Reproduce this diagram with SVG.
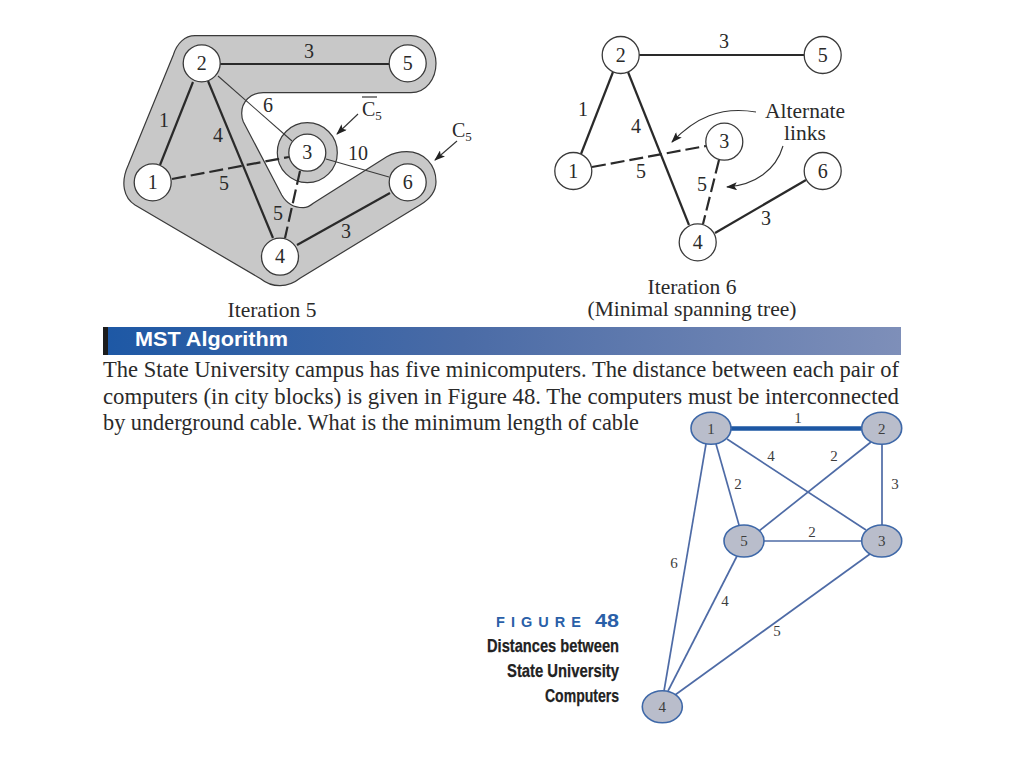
<svg xmlns="http://www.w3.org/2000/svg" width="1024" height="768" viewBox="0 0 1024 768">
<style>
text{font-family:"Liberation Serif","Times New Roman",serif;fill:#2a2a2a}
.n{fill:#fff;stroke:#3a3a3a;stroke-width:1.3}
.t{font-size:20px;text-anchor:middle}
.l{font-size:20px;text-anchor:middle}
.big{font-size:21.500px;text-anchor:middle}
.e{stroke:#2a2a2a;stroke-width:2.200;fill:none}
.d{stroke:#2a2a2a;stroke-width:2.200;fill:none;stroke-dasharray:14 5}
.h{stroke:#3a3a3a;stroke-width:1.100;fill:none}
.b{stroke:#4e6ba6;stroke-width:1.700;fill:none}
.g{fill:#b9bdcb;stroke:#3e68a8;stroke-width:1.600}
.s{font-size:15px;text-anchor:middle;fill:#3d3d3d}
.body{font-size:22.500px}
.cap{font-family:"Liberation Sans",Arial,sans-serif;font-weight:bold;font-size:18.500px;fill:#222;stroke:#222;stroke-width:.25}
.arr{stroke:#333;stroke-width:1.100;fill:none}
</style>
<defs>
<marker id="ah" markerWidth="12" markerHeight="8" refX="10" refY="4" orient="auto" markerUnits="userSpaceOnUse"><path d="M0 0L11 4L0 8L2.500 4Z" fill="#222"/></marker>
<linearGradient id="bar" x1="0" x2="1" y1="0" y2="0"><stop offset="0" stop-color="#1d58a5"/><stop offset="0.45" stop-color="#4a6ba6"/><stop offset="1" stop-color="#7e8fb9"/></linearGradient>
</defs>
<rect width="1024" height="768" fill="#fff"/>

<g id="regions">
<path d="M195 35.700H411C426 35.700 436 49 436 63.300C436 79 426 92.700 411 92.700H263.300C250 92.700 241.700 102 241.700 113.300Q241.700 118 243.300 121.700L281.700 195Q289 207.700 303.300 207.700Q308 207.700 313.300 203.300L386.700 156.700Q396 151.700 406.700 151.700C424 151.700 436 165 436 181.700C436 192 430 199 420 205L300 278.300C288 288 272 288 261 279L135 205C124 198 120 183 128.300 165L173.300 55C177 43 185 35.700 195 35.700Z" fill="#c8c8c8" stroke="#3a3a3a" stroke-width="1.200"/>
<circle cx="307.300" cy="152.700" r="30" fill="#c8c8c8" stroke="#3a3a3a" stroke-width="1.200"/>
</g>

<g id="connectors">
<line class="e" x1="220" y1="64" x2="389" y2="64"/>
<line class="e" x1="193" y1="82" x2="160" y2="165"/>
<line class="e" x1="208" y1="81" x2="273" y2="238"/>
<line class="e" x1="297" y1="245" x2="390" y2="193"/>
<line class="d" x1="172" y1="179" x2="289" y2="157"/>
<line class="d" x1="300" y1="171" x2="285" y2="238"/>
<line class="h" x1="218" y1="76" x2="292" y2="141"/>
<line class="h" x1="326" y1="159" x2="389" y2="177"/>

<line class="e" x1="639" y1="55" x2="804" y2="55"/>
<line class="e" x1="613" y1="72" x2="581" y2="154"/>
<line class="e" x1="628" y1="72" x2="689" y2="225"/>
<line class="e" x1="715" y1="233" x2="806" y2="180"/>
<line class="d" x1="592" y1="167" x2="706" y2="146"/>
<line class="d" x1="719" y1="160" x2="703" y2="224"/>

<line class="b" x1="730" y1="428.500" x2="862" y2="428.500" style="stroke:#1d57a3;stroke-width:4.500"/>
<line class="b" x1="706" y1="444" x2="664" y2="691"/>
<line class="b" x1="716" y1="444" x2="739" y2="525"/>
<line class="b" x1="727" y1="439" x2="866" y2="530"/>
<line class="b" x1="871" y1="442" x2="759" y2="531"/>
<line class="b" x1="882" y1="444" x2="882" y2="525"/>
<line class="b" x1="764" y1="541" x2="862" y2="541"/>
<line class="b" x1="737" y1="556" x2="668" y2="691"/>
<line class="b" x1="870" y1="554" x2="675" y2="695"/>

<line class="arr" x1="358" y1="114" x2="337" y2="134" marker-end="url(#ah)"/>
<line class="arr" x1="457" y1="141" x2="435" y2="160" marker-end="url(#ah)"/>
<path class="arr" d="M756 112C720 106 695 118 672 142" marker-end="url(#ah)"/>
<path class="arr" d="M783 146C776 170 755 185 727 187" marker-end="url(#ah)"/>
</g>

<g id="L2"><circle class="n" cx="201.700" cy="63.300" r="18.500"/><text class="t" x="201.700" y="70">2</text></g>
<g id="L5"><circle class="n" cx="407.700" cy="63.300" r="18.500"/><text class="t" x="407.700" y="70">5</text></g>
<g id="L1"><circle class="n" cx="152.700" cy="182.300" r="18.500"/><text class="t" x="152.700" y="189">1</text></g>
<g id="L3"><circle class="n" cx="307.300" cy="152.700" r="18.500"/><text class="t" x="307.300" y="159">3</text></g>
<g id="L6"><circle class="n" cx="407.700" cy="182.300" r="18.500"/><text class="t" x="407.700" y="189">6</text></g>
<g id="L4"><circle class="n" cx="280" cy="256.700" r="18.500"/><text class="t" x="280" y="263">4</text></g>

<g id="R2"><circle class="n" cx="620.700" cy="55" r="18.500"/><text class="t" x="620.700" y="61.500">2</text></g>
<g id="R5"><circle class="n" cx="822.700" cy="55" r="18.500"/><text class="t" x="822.700" y="61.500">5</text></g>
<g id="R1"><circle class="n" cx="573.300" cy="171" r="18.500"/><text class="t" x="573.300" y="177.500">1</text></g>
<g id="R3"><circle class="n" cx="724.300" cy="141.700" r="18.500"/><text class="t" x="724.300" y="148">3</text></g>
<g id="R6"><circle class="n" cx="822.700" cy="171" r="18.500"/><text class="t" x="822.700" y="177.500">6</text></g>
<g id="R4"><circle class="n" cx="697.700" cy="242.300" r="18.500"/><text class="t" x="697.700" y="249">4</text></g>

<g id="B1"><ellipse class="g" cx="711" cy="428.300" rx="20" ry="16"/><text class="s" x="711" y="433.500">1</text></g>
<g id="B2"><ellipse class="g" cx="881.700" cy="428.300" rx="20" ry="16"/><text class="s" x="881.700" y="433.500">2</text></g>
<g id="B5"><ellipse class="g" cx="744" cy="541" rx="20" ry="16"/><text class="s" x="744" y="546">5</text></g>
<g id="B3"><ellipse class="g" cx="881.700" cy="541" rx="20" ry="16"/><text class="s" x="881.700" y="546">3</text></g>
<g id="B4"><ellipse class="g" cx="662.300" cy="706.700" rx="20" ry="16"/><text class="s" x="662.300" y="712">4</text></g>

<g id="labels">
<text class="l" x="309" y="58">3</text>
<text class="l" x="164" y="127">1</text>
<text class="l" x="218" y="142">4</text>
<text class="l" x="268" y="112">6</text>
<text class="l" x="224" y="190">5</text>
<text class="l" x="278" y="220">5</text>
<text class="l" x="346" y="238">3</text>
<text class="l" x="358" y="160">10</text>
<text x="362" y="116" font-size="20">C<tspan font-size="13" dy="4">5</tspan></text>
<line x1="362" y1="97" x2="377" y2="97" stroke="#333" stroke-width="1.200"/>
<text x="452" y="137" font-size="20">C<tspan font-size="13" dy="4">5</tspan></text>
<text class="l" x="724" y="48">3</text>
<text class="l" x="583" y="116">1</text>
<text class="l" x="636" y="133">4</text>
<text class="l" x="641" y="178">5</text>
<text class="l" x="702" y="191">5</text>
<text class="l" x="766" y="225">3</text>
<text class="big" x="805" y="118">Alternate</text>
<text class="big" x="805" y="140">links</text>
<text class="big" x="272" y="317">Iteration 5</text>
<text class="big" x="692" y="294">Iteration 6</text>
<text class="big" x="692" y="316">(Minimal spanning tree)</text>
<text class="s" x="798" y="423">1</text>
<text class="s" x="771" y="461">4</text>
<text class="s" x="834" y="461">2</text>
<text class="s" x="738" y="489">2</text>
<text class="s" x="895" y="489">3</text>
<text class="s" x="812" y="537">2</text>
<text class="s" x="674" y="568">6</text>
<text class="s" x="725" y="606">4</text>
<text class="s" x="777" y="636">5</text>
</g>

<g id="banner">
<rect x="103" y="327" width="798" height="28" fill="url(#bar)"/>
<rect x="103" y="327" width="5" height="28" fill="#1c1c1c"/>
<text x="135" y="346" font-size="20" font-weight="bold" textLength="153" lengthAdjust="spacingAndGlyphs" style="font-family:'Liberation Sans',Arial,sans-serif;fill:#fff">MST Algorithm</text>
</g>

<g id="body">
<text class="body" x="103" y="377" textLength="796" lengthAdjust="spacingAndGlyphs">The State University campus has five minicomputers. The distance between each pair of</text>
<text class="body" x="103" y="404" textLength="796" lengthAdjust="spacingAndGlyphs">computers (in city blocks) is given in Figure 48. The computers must be interconnected</text>
<text class="body" x="103" y="430" textLength="536" lengthAdjust="spacingAndGlyphs">by underground cable. What is the minimum length of cable</text>
</g>

<g id="caption">
<text x="496" y="627" font-size="14.500" font-weight="bold" textLength="85" lengthAdjust="spacing" style="font-family:'Liberation Sans',Arial,sans-serif;fill:#2a5fa8">FIGURE</text>
<text x="595" y="627" font-size="18" font-weight="bold" textLength="24" lengthAdjust="spacingAndGlyphs" style="font-family:'Liberation Sans',Arial,sans-serif;fill:#2a5fa8">48</text>
<text class="cap" x="487" y="652" textLength="132" lengthAdjust="spacingAndGlyphs">Distances between</text>
<text class="cap" x="507" y="677" textLength="112" lengthAdjust="spacingAndGlyphs">State University</text>
<text class="cap" x="545" y="702" textLength="74" lengthAdjust="spacingAndGlyphs">Computers</text>
</g>
</svg>
